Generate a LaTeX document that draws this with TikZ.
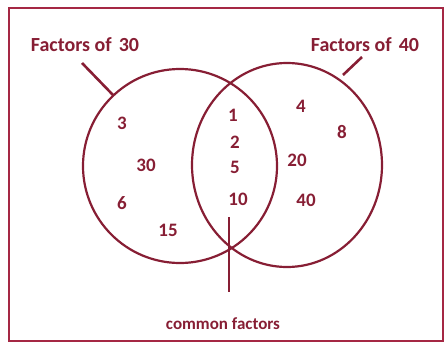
\documentclass[tikz,border=0pt]{standalone}
\usepackage{fontspec}
\setmainfont{Carlito}
\usetikzlibrary{positioning}
\definecolor{vennred}{RGB}{135,30,52}
\definecolor{framered}{RGB}{165,40,68}
\tikzset{
  num/.style={text=vennred, font=\bfseries\fontsize{19}{19}\selectfont, inner sep=0pt},
  setlabel/.style={text=vennred, font=\bfseries\fontsize{20}{20}\selectfont, inner sep=0pt},
  footlabel/.style={text=vennred, font=\bfseries\fontsize{17}{17}\selectfont, inner sep=0pt},
  ring/.style={draw=vennred, line width=2.2pt},
  pointer/.style={draw=vennred, line width=2.6pt}
}

\begin{document}
\begin{tikzpicture}[x=1pt, y=-1pt]
    \useasboundingbox (0,0) rectangle (445,343);
    % Frame
    \draw[framered, line width=2pt] (9,8) rectangle (443,341);

    % Sets
    \draw[ring] (180,166) circle [radius=97];
    \draw[ring] (287,165) ellipse [x radius=95, y radius=102];

    % Set labels
    \node[setlabel] (f30) at (85,45) {Factors of\hspace{7pt}30};
    \node[setlabel] (f40) at (365,45) {Factors of\hspace{7pt}40};
    \coordinate (a30) at (82,63);
    \coordinate (b30) at (113,95);
    \coordinate (a40) at (362,57);
    \coordinate (b40) at (343,75);
    \draw[pointer] (a30) -- (b30);
    \draw[pointer] (a40) -- (b40);

    % Only 30
    \node[num] (n3) at (122,123) {3};
    \node[num] (n30) at (146,165) {30};
    \node[num] (n6) at (122,203) {6};
    \node[num] (n15) at (168,230) {15};

    % Both
    \node[num] (n1) at (233,115) {1};
    \node[num] (n2) at (235,142) {2};
    \node[num] (n5) at (235,167) {5};
    \node[num] (n10) at (238,199) {10};

    % Only 40
    \node[num] (n4) at (301,106) {4};
    \node[num] (n8) at (342,132) {8};
    \node[num] (n20) at (297,160) {20};
    \node[num] (n40) at (306,200) {40};

    % Common factors
    \node[footlabel] (cf) at (223,324) {common factors};
    \coordinate (ctop) at (229,217);
    \coordinate (cbot) at (229,292);
    \draw[pointer] (ctop) -- (cbot);
\end{tikzpicture}
\end{document}
